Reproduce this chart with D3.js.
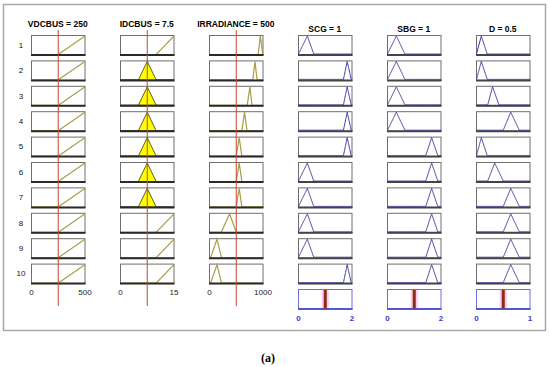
<!DOCTYPE html>
<html>
<head>
  <meta charset="utf-8">
  <script src="https://cdn.jsdelivr.net/npm/d3@7"></script>
  <style>
    body { margin: 0; background: #fff; }
    text { font-family: "Liberation Sans", Arial, sans-serif; }
  </style>
</head>
<body>
  <svg width="550" height="367"></svg>

  <script>
    // rule numbers
    const ruleIds = [1, 2, 3, 4, 5, 6, 7, 8, 9, 10];

    // inputs: name, current value, range
    const inputNames = ["VDCBUS", "IDCBUS", "IRRADIANCE"];
    const inputValues = [250, 7.5, 500];
    const inputRanges = [[0, 500], [0, 15], [0, 1000]];

    // trapezoid params [a, b, c, d] per rule (triangles have b == c)
    const vdcbusMFs = [
      [250, 500, 500, 500], [250, 500, 500, 500], [250, 500, 500, 500], [250, 500, 500, 500], [250, 500, 500, 500],
      [250, 500, 500, 500], [250, 500, 500, 500], [250, 500, 500, 500], [250, 500, 500, 500], [250, 500, 500, 500]
    ];
    const idcbusMFs = [
      [10, 15, 15, 15], [5, 7.5, 7.5, 10], [5, 7.5, 7.5, 10], [5, 7.5, 7.5, 10], [5, 7.5, 7.5, 10],
      [5, 7.5, 7.5, 10], [5, 7.5, 7.5, 10], [10, 15, 15, 15], [10, 15, 15, 15], [10, 15, 15, 15]
    ];
    const irradianceMFs = [
      [910, 950, 950, 995], [810, 850, 850, 890], [705, 755, 755, 795], [605, 655, 655, 700], [500, 555, 555, 605],
      [500, 555, 555, 605], [500, 555, 555, 605], [220, 375, 375, 500], [20, 140, 140, 225], [20, 140, 140, 225]
    ];

    // outputs
    const outputNames = ["SCG", "SBG", "D"];
    const outputValues = [1, 1, 0.5];
    const outputRanges = [[0, 2], [0, 2], [0, 1]];

    const scgMFs = [
      [0, 0.33, 0.33, 0.57], [1.68, 1.82, 1.82, 1.97], [1.68, 1.82, 1.82, 1.97], [1.68, 1.82, 1.82, 1.97], [1.68, 1.82, 1.82, 1.97],
      [0, 0.33, 0.33, 0.57], [0, 0.33, 0.33, 0.57], [0, 0.33, 0.33, 0.57], [0, 0.33, 0.33, 0.57], [1.68, 1.82, 1.82, 1.97]
    ];
    const sbgMFs = [
      [0, 0.33, 0.33, 0.65], [0, 0.33, 0.33, 0.65], [0, 0.33, 0.33, 0.65], [0, 0.33, 0.33, 0.65], [1.43, 1.65, 1.65, 1.88],
      [1.43, 1.65, 1.65, 1.88], [1.43, 1.65, 1.65, 1.88], [1.43, 1.65, 1.65, 1.88], [1.43, 1.65, 1.65, 1.88], [1.43, 1.65, 1.65, 1.88]
    ];
    const dMFs = [
      [0, 0.09, 0.09, 0.2], [0, 0.09, 0.09, 0.2], [0.21, 0.3, 0.3, 0.42], [0.5, 0.64, 0.64, 0.8], [0, 0.09, 0.09, 0.2],
      [0.21, 0.34, 0.34, 0.5], [0.5, 0.64, 0.64, 0.8], [0.5, 0.64, 0.64, 0.8], [0.5, 0.64, 0.64, 0.8], [0.5, 0.64, 0.64, 0.8]
    ];

    const inputMFs = [vdcbusMFs, idcbusMFs, irradianceMFs];
    const outputMFs = [scgMFs, sbgMFs, dMFs];

    const svg = d3.select("svg");

    const boxW = 53.5, boxH = 19.5;
    const colX = d3.scaleLinear().domain([0, 5]).range([31, 476]);
    const rowY = d3.scaleLinear().domain([0, 10]).range([35, 289]);

    const trapmf = (x, p) => {
      const [a, b, c, d] = p;
      if (x < a) return 0;
      if (x < b) return (x - a) / (b - a);
      if (x <= c) return 1;
      if (x < d) return (d - x) / (d - c);
      return 0;
    };

    const samplePts = (range, p) => {
      const xs = d3.range(0, 201).map(i => range[0] + (range[1] - range[0]) * i / 200);
      p.forEach(v => xs.push(v));
      return xs.filter(v => v >= range[0] && v <= range[1]).sort((a, b) => a - b);
    };

    // outer frame
    svg.append("rect")
      .attr("x", 3.5).attr("y", 4.5).attr("width", 542).attr("height", 326)
      .attr("fill", "none").attr("stroke", "#a8a8a8").attr("stroke-width", 1.5);

    // rule numbers
    svg.selectAll(".rnum").data(ruleIds).enter().append("text")
      .attr("x", 21).attr("y", (d, i) => rowY(i) + boxH / 2 + 3)
      .attr("text-anchor", "middle").attr("font-size", 8).attr("fill", "#111")
      .text(d => d);

    const drawBox = (g, x0, y0) => {
      g.append("rect").attr("x", x0 + 0.5).attr("y", y0 + 0.5)
        .attr("width", boxW).attr("height", boxH)
        .attr("fill", "#fff").attr("stroke", "#6e6e6e").attr("stroke-width", 1);
    };

    // inputs
    inputNames.forEach((name, k) => {
      const x0 = colX(k);
      const xs = d3.scaleLinear().domain(inputRanges[k]).range([x0 + 0.5, x0 + 0.5 + boxW]);
      const g = svg.append("g");

      g.append("text").attr("x", x0 + boxW / 2).attr("y", 27)
        .attr("text-anchor", "middle").attr("font-size", 8.5).attr("font-weight", "bold")
        .text(name + " = " + inputValues[k]);

      inputMFs[k].forEach((p, r) => {
        const y0 = rowY(r);
        const ys = d3.scaleLinear().domain([0, 1]).range([y0 + boxH, y0 + 1]);
        drawBox(g, x0, y0);
        const pts = samplePts(inputRanges[k], p);
        const mu = trapmf(inputValues[k], p);
        if (mu > 0) {
          g.append("path")
            .datum(pts)
            .attr("d", d3.area().x(d => xs(d)).y0(ys(0)).y1(d => ys(Math.min(trapmf(d, p), mu))))
            .attr("fill", "#ffff00").attr("stroke", "#3a3a20").attr("stroke-width", 1);
        } else {
          g.append("path")
            .datum(pts)
            .attr("d", d3.line().x(d => xs(d)).y(d => ys(trapmf(d, p))))
            .attr("fill", "none").attr("stroke", "#aa9c48").attr("stroke-width", 1.2);
        }
        g.append("line").attr("x1", x0).attr("x2", x0 + boxW + 1)
          .attr("y1", y0 + boxH + 0.5).attr("y2", y0 + boxH + 0.5)
          .attr("stroke", "#2a2a2a").attr("stroke-width", 2);
      });

      // tick labels
      g.selectAll(".tick").data(inputRanges[k]).enter().append("text")
        .attr("x", d => xs(d)).attr("y", 295)
        .attr("text-anchor", "middle").attr("font-size", 8).attr("fill", "#222")
        .text(d => d);

      // current input line
      g.append("line")
        .attr("x1", xs(inputValues[k])).attr("x2", xs(inputValues[k]))
        .attr("y1", 30).attr("y2", 306)
        .attr("stroke", "#c8472c").attr("stroke-width", 1);
    });

    // outputs
    outputNames.forEach((name, k) => {
      const x0 = colX(k + 3);
      const xs = d3.scaleLinear().domain(outputRanges[k]).range([x0 + 0.5, x0 + 0.5 + boxW]);
      const g = svg.append("g");

      g.append("text").attr("x", x0 + boxW / 2).attr("y", 32)
        .attr("text-anchor", "middle").attr("font-size", 8.5).attr("font-weight", "bold")
        .text(name + " = " + outputValues[k]);

      outputMFs[k].forEach((p, r) => {
        const y0 = rowY(r);
        const ys = d3.scaleLinear().domain([0, 1]).range([y0 + boxH - 0.5, y0 + 1]);
        drawBox(g, x0, y0);
        g.append("line").attr("x1", x0).attr("x2", x0 + boxW + 1)
          .attr("y1", y0 + boxH + 0.5).attr("y2", y0 + boxH + 0.5)
          .attr("stroke", "#444").attr("stroke-width", 2);
        g.append("path")
          .datum(samplePts(outputRanges[k], p))
          .attr("d", d3.line().x(d => xs(d)).y(d => ys(trapmf(d, p))))
          .attr("fill", "none").attr("stroke", "#3d3d9e").attr("stroke-width", 1);
      });

      // aggregated output row
      const ya = rowY(10);
      g.append("rect").attr("x", xs(outputValues[k]) - 3.5).attr("y", ya + 1)
        .attr("width", 7).attr("height", boxH - 1).attr("fill", "#ffc8ec");
      g.append("rect").attr("x", x0 + 0.5).attr("y", ya + 0.5)
        .attr("width", boxW).attr("height", boxH)
        .attr("fill", "none").attr("stroke", "#6d6de0").attr("stroke-width", 1);
      g.append("line").attr("x1", x0).attr("x2", x0 + boxW + 1)
        .attr("y1", ya + boxH + 0.5).attr("y2", ya + boxH + 0.5)
        .attr("stroke", "#5555d0").attr("stroke-width", 2);
      g.append("rect").attr("x", xs(outputValues[k]) - 1.5).attr("y", ya + 1)
        .attr("width", 3).attr("height", boxH - 1).attr("fill", "#8a2e12");

      g.selectAll(".tick").data(outputRanges[k]).enter().append("text")
        .attr("x", d => xs(d)).attr("y", 321)
        .attr("text-anchor", "middle").attr("font-size", 8).attr("font-weight", "bold")
        .attr("fill", "#3a3acc")
        .text(d => d);
    });

    // caption
    svg.append("text").attr("x", 268).attr("y", 362)
      .attr("text-anchor", "middle").attr("font-size", 12).attr("font-weight", "bold")
      .style("font-family", "'Liberation Serif', 'DejaVu Serif', serif")
      .text("(a)");
  </script>
</body>
</html>
